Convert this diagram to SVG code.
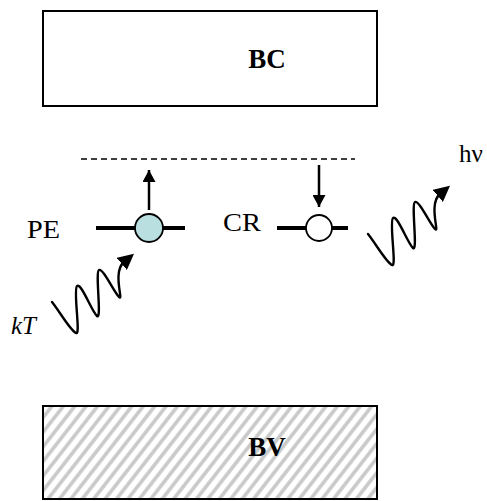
<svg xmlns="http://www.w3.org/2000/svg" width="487" height="501" viewBox="0 0 487 501">
<style>
.box{fill:#fff;stroke:#000;stroke-width:2}
.lbl{font-family:"Liberation Serif",serif;font-size:25px;fill:#000}
.band{font-family:"Liberation Serif",serif;font-size:27px;font-weight:bold;fill:#000}
.lvl{stroke:#000;stroke-width:4;fill:none}
.arr{stroke:#000;stroke-width:2.5;fill:none}
.wave{stroke:#000;stroke-width:2.4;fill:none;stroke-linecap:round}
</style>
<defs>
<pattern id="hatch" width="9" height="10" patternUnits="userSpaceOnUse" patternTransform="rotate(38)">
<rect width="9" height="10" fill="#fff"/>
<line x1="3" y1="0" x2="3" y2="10" stroke="#c8c8c8" stroke-width="3.5"/>
</pattern>
<marker id="ah" markerWidth="12" markerHeight="13" refX="12" refY="6.5" orient="auto" markerUnits="userSpaceOnUse">
<path d="M0,0 L12,6.5 L0,13 Z" fill="#000"/>
</marker>
<marker id="wh" markerWidth="16" markerHeight="16" refX="3" refY="8" orient="auto" markerUnits="userSpaceOnUse">
<path d="M0,0 L16,8 L0,16 Z" fill="#000"/>
</marker>
</defs>
<g id="BC">
<rect class="box" x="43" y="11" width="334" height="95"/>
<text class="band" x="267" y="68" text-anchor="middle">BC</text>
</g>
<g id="BV">
<rect x="43" y="406" width="334" height="93" fill="url(#hatch)" stroke="#000" stroke-width="2"/>
<text class="band" x="267" y="456" text-anchor="middle">BV</text>
</g>
<g id="level">
<line x1="81" y1="159" x2="355" y2="159" stroke="#000" stroke-width="1.3" stroke-dasharray="6,4"/>
</g>
<g id="PE">
<text class="lbl" x="27" y="238" textLength="33" lengthAdjust="spacingAndGlyphs">PE</text>
<line class="lvl" x1="96" y1="228" x2="185" y2="228"/>
<circle cx="149" cy="228" r="14" fill="#b9dfe0" stroke="#000" stroke-width="1.8"/>
</g>
<g id="CR">
<text class="lbl" x="223" y="231" textLength="38" lengthAdjust="spacingAndGlyphs">CR</text>
<line class="lvl" x1="277" y1="228" x2="348" y2="228"/>
<circle cx="319" cy="228" r="13" fill="#fff" stroke="#000" stroke-width="1.8"/>
</g>
<g id="kT">
<text class="lbl" x="11" y="334" font-style="italic">kT</text>
</g>
<g id="hv">
<text class="lbl" x="459" y="162">hν</text>
</g>
<g id="connectors">
<line class="arr" x1="149" y1="210" x2="149" y2="170" marker-end="url(#ah)"/>
<line class="arr" x1="319" y1="165" x2="319" y2="207" marker-end="url(#ah)"/>
<path class="wave" d="M52,302 C60,312 70,330 76,333 C81,336 73,290 77,286 C81,282 92,312 97,316 C102,320 95,272 99,270 C103,268 114,292 119,297 C124,302 112,272 124,262" marker-end="url(#wh)"/>
<path class="wave" transform="translate(316,-68)" d="M52,302 C60,312 70,330 76,333 C81,336 73,290 77,286 C81,282 92,312 97,316 C102,320 95,272 99,270 C103,268 114,292 119,297 C124,302 112,272 124,262" marker-end="url(#wh)"/>
</g>
</svg>
